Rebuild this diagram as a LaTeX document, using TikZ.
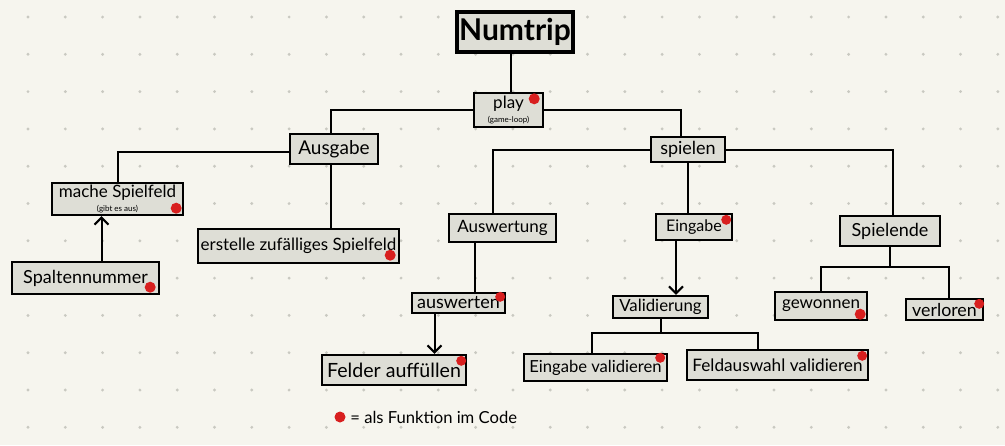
\documentclass[tikz,border=0pt]{standalone}
\usepackage{fontspec}
\setmainfont{Lato}
\usetikzlibrary{calc, arrows.meta}

\definecolor{paper}{HTML}{F6F5EE}
\definecolor{boxgray}{HTML}{DEDED6}
\definecolor{griddot}{HTML}{C9C9C1}
\definecolor{fnred}{HTML}{D81F1F}

\begin{document}
\begin{tikzpicture}[x=0.5pt, y=-0.5pt, >={Straight Barb[length=3.5pt, width=7pt]},
	box/.style={draw, line width=1.2pt, fill=boxgray, inner sep=1pt, align=center, font=\fontsize{8.5}{9}\selectfont},
	link/.style={line width=1pt},
	fn/.style={fill=fnred}]

	% paper with dot grid
	\fill[paper] (0,0) rectangle (1005,445);
	\useasboundingbox (0,0) rectangle (1005,445);
	\foreach \i in {0,...,26}
		\foreach \j in {0,...,11}
			\fill[griddot] (28+37.3*\i, 17+37.3*\j) circle (1.6);

	\node[box, line width=1.7pt, minimum width=57pt, minimum height=20pt, font=\fontsize{15}{16}\selectfont\bfseries] (numtrip) at (515,32) {Numtrip};
	\node[box, minimum width=34.5pt, minimum height=17pt] (play) at (508.5,110) {play\\[-2pt]{\fontsize{4}{4}\selectfont (game-loop)}};

	\node[box, minimum width=44pt, minimum height=15pt, font=\fontsize{9.5}{10}\selectfont] (ausgabe) at (334,149) {Ausgabe};
	\node[box, minimum width=37pt, minimum height=12.5pt, font=\fontsize{9}{10}\selectfont] (spielen) at (688,149.5) {spielen};

	\node[box, minimum width=65.5pt, minimum height=16pt] (mache) at (117.5,199) {mache Spielfeld\\[-2pt]{\fontsize{4}{4}\selectfont (gibt es aus)}};
	\node[box, minimum width=100.5pt, minimum height=17pt, font=\fontsize{8.5}{9}\selectfont] (erstelle) at (298.5,246) {erstelle zufälliges Spielfeld};
	\node[box, minimum width=73.5pt, minimum height=16pt, font=\fontsize{9}{10}\selectfont] (spalten) at (85.5,278) {Spaltennummer};

	\node[box, minimum width=53.5pt, minimum height=14pt] (auswertung) at (502.5,228) {Auswertung};
	\node[box, minimum width=38pt, minimum height=13pt, font=\fontsize{8}{9}\selectfont] (eingabe) at (694,227) {Eingabe};
	\node[box, minimum width=50pt, minimum height=15pt, font=\fontsize{9}{10}\selectfont] (spielende) at (890,231) {Spielende};

	\node[box, minimum width=46.5pt, minimum height=10pt, font=\fontsize{9}{9}\selectfont] (auswerten) at (458.5,303) {auswerten};
	\node[box, minimum width=72pt, minimum height=15pt, font=\fontsize{9.8}{10}\selectfont] (felder) at (394,370) {Felder auffüllen};
	\node[box, minimum width=47.5pt, minimum height=11pt, font=\fontsize{8.4}{9}\selectfont] (valid) at (660.5,307) {Validierung};
	\node[box, minimum width=71.5pt, minimum height=13.5pt, font=\fontsize{8.3}{9}\selectfont] (evalid) at (595.5,367.5) {Eingabe validieren};
	\node[box, minimum width=90.5pt, minimum height=15pt, font=\fontsize{8.6}{9}\selectfont] (fvalid) at (777.5,365) {Feldauswahl validieren};
	\node[box, minimum width=46pt, minimum height=14pt] (gewonnen) at (821,306) {gewonnen};
	\node[box, minimum width=38.5pt, minimum height=10.5pt, font=\fontsize{8.9}{9}\selectfont] (verloren) at (944.5,309.5) {verloren};

	\coordinate (vsplit) at (661,333);
	\coordinate (esplit) at (892,267);

	\draw[link] ([xshift=-2pt]numtrip.south) -- ([xshift=-2pt]numtrip.south |- play.north);
	\draw[link] (play.west) -| ([xshift=-1.5pt]ausgabe.north);
	\draw[link] (play.east) -| ([xshift=-3.5pt]spielen.north);

	\draw[link] ([yshift=-1.5pt]ausgabe.west) -| (mache.north);
	\draw[link] ([xshift=-1.5pt]ausgabe.south) -- ([xshift=-1.5pt]ausgabe.south |- erstelle.north);
	\draw[link, ->] ([xshift=8pt]spalten.north) -- ([xshift=8pt]spalten.north |- mache.south);

	\draw[link] (spielen.west) -| ([xshift=-5pt]auswertung.north);
	\draw[link] (spielen.south) -- (spielen.south |- eingabe.north);
	\draw[link] (spielen.east) -| ([xshift=1.5pt]spielende.north);

	\draw[link] ([xshift=-14pt]auswertung.south) -- ([xshift=-14pt]auswertung.south |- auswerten.north);
	\draw[link, ->] ([xshift=-12pt]auswerten.south) -- ([xshift=-12pt]auswerten.south |- felder.north);
	\draw[link, ->] ([xshift=-9pt]eingabe.south) -- ([xshift=-9pt]eingabe.south |- valid.north);

	\draw[link] (valid.south) -- (valid.south |- vsplit);
	\draw[link] ([xshift=-2pt]evalid.north) |- (vsplit) -| ([xshift=-10pt]fvalid.north);
	\draw[link] (spielende.south) -- (spielende.south |- esplit);
	\draw[link] (gewonnen.north) |- (esplit) -| ([xshift=2pt]verloren.north);

	% red dots = als Funktion im Code
	\fill[fn] ([shift={(-10,7)}]play.north east) circle (5.5);
	\fill[fn] ([shift={(-8,-8)}]mache.south east) circle (5.5);
	\fill[fn] ([shift={(-10,-9)}]erstelle.south east) circle (5.5);
	\fill[fn] ([shift={(-10,-8)}]spalten.south east) circle (5.5);
	\fill[fn] ([shift={(-6,5)}]auswerten.north east) circle (5);
	\fill[fn] ([shift={(-6,7)}]felder.north east) circle (5);
	\fill[fn] ([shift={(-7,7)}]eingabe.north east) circle (5);
	\fill[fn] ([shift={(-8,5)}]evalid.north east) circle (5);
	\fill[fn] ([shift={(-7,7)}]fvalid.north east) circle (5);
	\fill[fn] ([shift={(-8,-7)}]gewonnen.south east) circle (5.5);
	\fill[fn] ([shift={(-5,6)}]verloren.north east) circle (5);

	\coordinate (legdot) at (340,417);
	\fill[fn] (legdot) circle (5.5);
	\node[anchor=west, inner sep=0pt, font=\fontsize{8.3}{9}\selectfont] (legend) at ([xshift=5pt]legdot) {= als Funktion im Code};

\end{tikzpicture}
\end{document}
